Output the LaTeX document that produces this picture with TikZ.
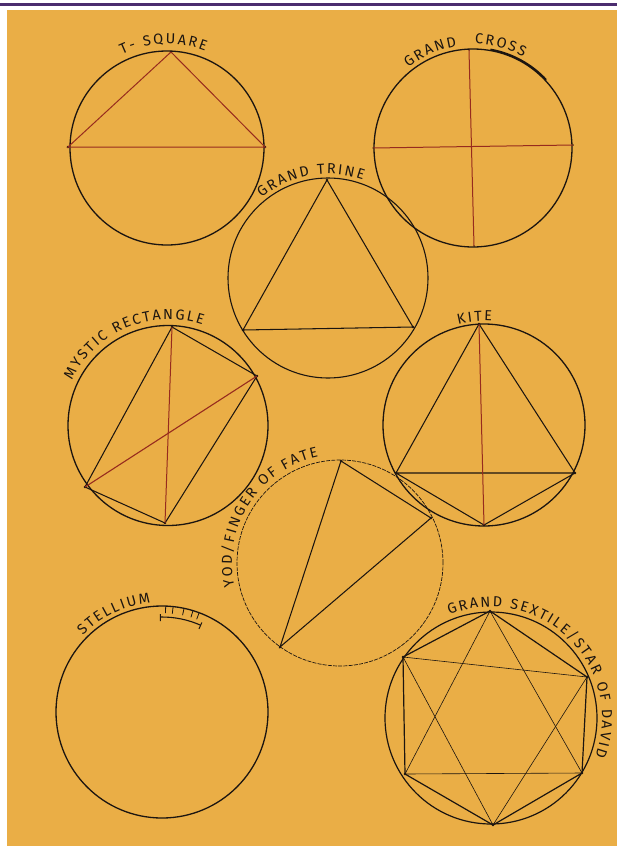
\documentclass[tikz,border=0pt]{standalone}
\usepackage{fontspec}
\newfontfamily\lblfont{Fira Sans}
\usetikzlibrary{decorations.text}
\definecolor{paper}{HTML}{EAAE46}
\definecolor{ink}{HTML}{1C1510}
\definecolor{redink}{HTML}{972B1E}
\definecolor{band}{HTML}{4B2D6F}
\newcommand\lblsize{\lblfont\fontsize{14.5pt}{14.5pt}\selectfont}
% #1 centre, #2 start angle, #3 end angle, #4 radius, #5 text
\newcommand\arclabel[5]{%
  \path[decorate, decoration={text effects along path, text={#5}, text align=center,
    text effects/.cd, text along path,
    characters={font=\lblsize, text=ink, inner sep=0pt},
    character widths={font=\lblsize, inner xsep=1.0pt, inner ysep=0pt}}]
    (#1) ++(#2:#4) arc[start angle=#2, end angle=#3, radius=#4];}
\tikzset{
  ring/.style={draw=ink, line width=1.3pt},
  faintring/.style={draw=ink, line width=0.7pt, dash pattern=on 4pt off 1.2pt},
  chord/.style={draw=ink, line width=1.05pt},
  thinchord/.style={draw=ink, line width=0.6pt},
  redchord/.style={draw=redink, line width=1pt},
  pt/.style={circle, fill=ink, inner sep=0pt, minimum size=2.6pt},
  tick/.style={draw=ink, line width=0.8pt}
}
\begin{document}
\begin{tikzpicture}[x=1pt,y=1pt]
\useasboundingbox (0,0) rectangle (617,-846);
\fill[white] (0,0) rectangle (617,-846);
\fill[paper] (7,-10) rectangle (617,-846);
\draw[band, line width=3pt] (0,-4.5) -- (617,-4.5);

% ---------- T-square
\coordinate (ts) at (167,-148);
\draw[ring] (ts) circle[radius=97pt];
\node[pt] (ts1) at (171,-52) {};
\node[pt] (ts2) at (68,-147) {};
\node[pt] (ts3) at (265,-147) {};
\draw[redchord] (ts1.center) -- (ts2.center) -- (ts3.center) -- (ts1.center);
\arclabel{ts}{162}{22}{104pt}{T- SQUARE}

% ---------- Grand cross
\coordinate (gc) at (473,-148);
\draw[ring] (gc) circle[radius=99pt];
\draw[ink, line width=1.9pt] (gc) ++(80:100pt) arc[start angle=80, end angle=43, radius=100pt];
\node[pt, minimum size=1.5pt] (gcN) at (469,-50) {};
\node[pt, minimum size=1.5pt] (gcS) at (474,-246) {};
\node[pt, minimum size=1.5pt] (gcW) at (373,-148) {};
\node[pt, minimum size=1.5pt] (gcE) at (573,-145) {};
\draw[redchord] (gcN.center) -- (gcS.center);
\draw[redchord] (gcW.center) -- (gcE.center);
\arclabel{gc}{184}{44}{103pt}{GRAND}
\arclabel{gc}{145}{5}{104pt}{CROSS}

% ---------- Grand trine
\coordinate (gt) at (328,-278);
\draw[ring, line width=1.1pt] (gt) circle[radius=100pt];
\node[pt] (gt1) at (327,-180) {};
\node[pt] (gt2) at (243,-330) {};
\node[pt] (gt3) at (413,-327) {};
\draw[chord] (gt1.center) -- (gt2.center) -- (gt3.center) -- (gt1.center);
\arclabel{gt}{170}{30}{104pt}{GRAND TRINE}

% ---------- Mystic rectangle
\coordinate (mr) at (168,-425.5);
\draw[ring] (mr) circle[radius=100pt];
\node[pt] (mrA) at (172,-327) {};
\node[pt] (mrB) at (257,-376) {};
\node[pt] (mrC) at (85,-487) {};
\node[pt] (mrD) at (165,-523) {};
\draw[chord] (mrA.center) -- (mrB.center) -- (mrD.center) -- (mrC.center) -- (mrA.center);
\draw[redchord] (mrA.center) -- (mrD.center);
\draw[redchord, line width=1.1pt] (mrC.center) -- (mrB.center);
\arclabel{mr}{185}{41}{106pt}{MYSTIC RECTANGLE}

% ---------- Kite
\coordinate (kt) at (484,-425);
\draw[ring] (kt) circle[radius=101pt];
\node[pt] (ktT) at (479,-324) {};
\node[pt] (ktL) at (396,-473) {};
\node[pt] (ktR) at (575,-473) {};
\node[pt] (ktB) at (484,-525) {};
\draw[chord] (ktL.center) -- (ktT.center) -- (ktR.center) -- (ktB.center) -- (ktL.center) -- (ktR.center);
\draw[redchord] (ktT.center) -- (ktB.center);
\arclabel{kt}{165}{25}{104pt}{KITE}

% ---------- Yod
\coordinate (yd) at (340,-563);
\draw[faintring] (yd) circle[radius=103pt];
\node[pt] (ydT) at (341,-461) {};
\node[pt] (ydR) at (431,-518) {};
\node[pt] (ydL) at (280,-647) {};
\draw[chord] (ydT.center) -- (ydR.center) -- (ydL.center) -- (ydT.center);
\arclabel{yd}{226}{68}{108pt}{YOD/FINGER OF FATE}

% ---------- Stellium
\coordinate (st) at (162,-712);
\draw[ring] (st) circle[radius=106pt];
\draw[ink, line width=1.1pt] (st) ++(91:95pt) arc[start angle=91, end angle=66, radius=95pt];
\draw[tick, line width=1pt] (st) ++(91:91pt) -- ++(91:7pt);
\draw[tick, line width=1pt] (st) ++(66:91pt) -- ++(66:7pt);
\foreach \a in {88,84,78,73,69.5}{
  \draw[tick] (st) ++(\a:99pt) -- ++(\a:6.5pt);
}
\arclabel{st}{186}{46}{110pt}{STELLIUM}

% ---------- Grand sextile
\coordinate (gs) at (491,-718);
\draw[ring, line width=1.2pt] (gs) circle[radius=106pt];
\node[pt] (gsT) at (490,-611) {};
\node[pt] (gsUR) at (587,-677) {};
\node[pt] (gsLR) at (582,-773) {};
\node[pt] (gsB) at (493,-825) {};
\node[pt] (gsLL) at (405,-774) {};
\node[pt] (gsUL) at (403,-657) {};
\draw[chord, line width=1.2pt] (gsT.center) -- (gsUR.center) -- (gsLR.center) -- (gsB.center) -- (gsLL.center) -- (gsUL.center) -- (gsT.center);
\draw[thinchord] (gsT.center) -- (gsLL.center) -- (gsLR.center) -- (gsT.center);
\draw[thinchord] (gsB.center) -- (gsUL.center) -- (gsUR.center) -- (gsB.center);
\arclabel{gs}{136}{-44}{111pt}{GRAND SEXTILE/STAR OF DAVID}
\end{tikzpicture}
\end{document}
